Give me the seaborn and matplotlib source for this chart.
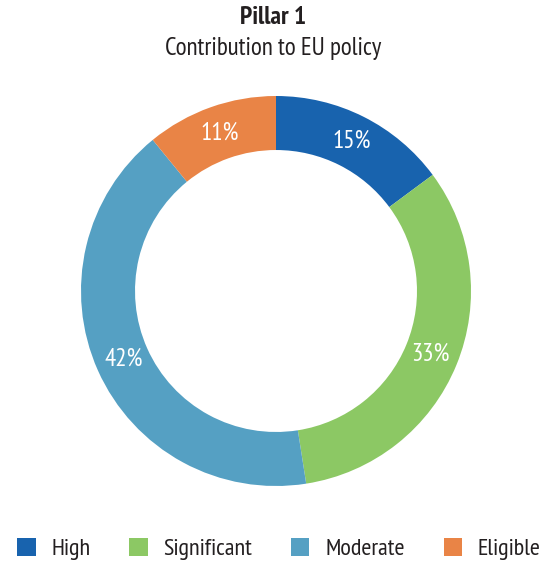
import matplotlib
matplotlib.use("Agg")
import matplotlib.pyplot as plt
from matplotlib.patches import Patch
import seaborn as sns

categories = ["High", "Significant", "Moderate", "Eligible"]
values = [15, 33, 42, 11]
colors = ["#1863ae", "#8cc864", "#55a0c3", "#e98446"]

sns.set_style("white")
plt.rcParams['font.family'] = ['PT Sans Narrow', 'DejaVu Sans']
palette = sns.color_palette(colors)

fig = plt.figure(figsize=(5.46, 5.65), dpi=100)
ax = fig.add_axes([81/546, 79/565, 390/546, 390/565])
wedges, texts, autotexts = ax.pie(
    values, colors=palette, startangle=90, counterclock=False,
    radius=1.0, wedgeprops=dict(width=0.277, edgecolor='none'),
    autopct=lambda p: '', pctdistance=0.858)
for at, v in zip(autotexts, values):
    at.set_text(f"{v}%")
    at.set_color("white")
    at.set_fontsize(18)
ax.set_xlim(-1, 1)
ax.set_ylim(-1, 1)
ax.set_aspect('equal')
ax.axis('off')

fig.text(0.5, 1 - 17/565, "Pillar 1", ha='center', va='center',
         fontsize=18.5, fontweight='bold', color='#231f20')
fig.text(0.5, 1 - 48/565, "Contribution to EU policy", ha='center', va='center',
         fontsize=18, color='#231f20')

handles = [Patch(facecolor=c, edgecolor='none') for c in palette]
fig.legend(handles, categories, loc='center', bbox_to_anchor=(279/546, 1 - 549/565),
           ncol=4, frameon=False, fontsize=17.5, handlelength=0.75, handleheight=0.75,
           handletextpad=0.65, columnspacing=1.6, labelcolor='#231f20',
           borderpad=0, borderaxespad=0)

fig.savefig("out.png", dpi=100)
